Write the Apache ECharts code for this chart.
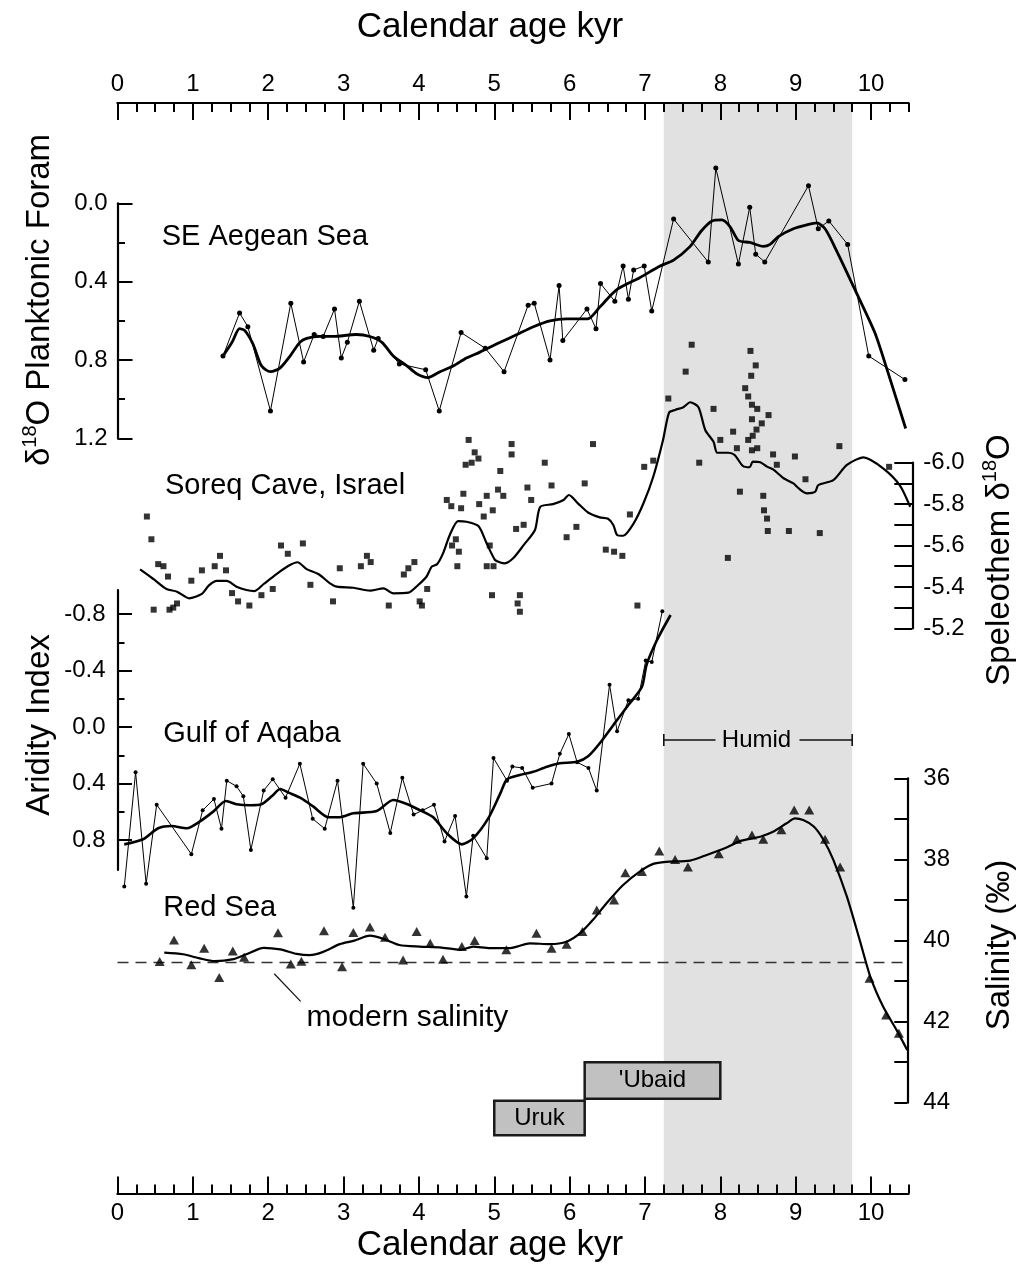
<!DOCTYPE html>
<html><head><meta charset="utf-8">
<script src="https://cdn.jsdelivr.net/npm/echarts@6/dist/echarts.min.js"></script>
<style>html,body{margin:0;padding:0;background:#fff}#c{width:1030px;height:1272px}</style>
</head><body><div id="c"></div>
<script>
// ---------------- DATA ----------------
const xMajorTicks = [0,1,2,3,4,5,6,7,8,9,10];
const aegeanTicks = [0.0,0.4,0.8,1.2];
const soreqTicks = [-6.0,-5.8,-5.6,-5.4,-5.2];
const aqabaTicks = [-0.8,-0.4,0.0,0.4,0.8];
const salinityTicks = [36,38,40,42,44];

const aegeanPts = [[1.40,0.78],[1.62,0.56],[1.73,0.63],[2.03,1.06],[2.30,0.51],[2.47,0.81],[2.61,0.67],[2.73,0.68],[2.88,0.54],[2.97,0.79],[3.05,0.71],[3.21,0.50],[3.40,0.75],[3.46,0.69],[3.74,0.82],[4.09,0.85],[4.27,1.06],[4.56,0.66],[4.88,0.74],[5.13,0.86],[5.45,0.52],[5.53,0.51],[5.74,0.80],[5.86,0.42],[5.91,0.70],[6.23,0.54],[6.35,0.64],[6.41,0.41],[6.60,0.50],[6.71,0.32],[6.78,0.49],[6.85,0.34],[6.99,0.32],[7.09,0.55],[7.38,0.08],[7.84,0.30],[7.94,-0.18],[8.24,0.31],[8.39,0.02],[8.47,0.26],[8.59,0.30],[9.17,-0.09],[9.30,0.13],[9.44,0.09],[9.69,0.21],[9.97,0.78],[10.45,0.90]];
const aegeanSmooth = [[1.40,0.78],[1.52,0.71],[1.62,0.64],[1.69,0.65],[1.80,0.72],[1.91,0.83],[2.03,0.86],[2.16,0.84],[2.29,0.78],[2.42,0.71],[2.51,0.69],[2.69,0.68],[2.86,0.68],[3.17,0.67],[3.35,0.68],[3.51,0.71],[3.66,0.78],[3.84,0.83],[3.97,0.87],[4.12,0.89],[4.28,0.86],[4.46,0.83],[4.63,0.79],[4.81,0.76],[5.08,0.71],[5.30,0.67],[5.52,0.63],[5.74,0.60],[5.96,0.59],[6.24,0.59],[6.40,0.53],[6.63,0.44],[6.93,0.38],[7.20,0.32],[7.38,0.29],[7.60,0.22],[7.75,0.14],[7.89,0.09],[8.02,0.085],[8.13,0.12],[8.24,0.19],[8.39,0.20],[8.57,0.22],[8.66,0.21],[8.77,0.17],[8.97,0.13],[9.15,0.11],[9.28,0.10],[9.39,0.13],[9.54,0.24],[9.81,0.46],[10.05,0.66],[10.23,0.87],[10.46,1.15]];

const soreqPts = [[0.39,-5.74],[0.45,-5.63],[0.54,-5.51],[0.61,-5.50],[0.67,-5.45],[0.48,-5.29],[0.69,-5.29],[0.74,-5.30],[0.79,-5.32],[0.98,-5.43],[1.12,-5.48],[1.29,-5.50],[1.36,-5.55],[1.44,-5.48],[1.52,-5.37],[1.60,-5.33],[1.75,-5.31],[1.91,-5.36],[2.06,-5.39],[2.17,-5.60],[2.26,-5.56],[2.46,-5.61],[2.56,-5.41],[2.86,-5.33],[2.95,-5.49],[3.23,-5.50],[3.31,-5.55],[3.36,-5.52],[3.60,-5.31],[3.80,-5.46],[3.86,-5.49],[3.94,-5.52],[4.01,-5.33],[4.04,-5.31],[4.11,-5.39],[4.37,-5.82],[4.43,-5.79],[4.49,-5.63],[4.53,-5.57],[4.44,-5.60],[4.51,-5.50],[4.59,-5.85],[4.56,-5.78],[4.66,-6.11],[4.74,-6.05],[4.79,-6.02],[4.62,-5.99],[4.70,-6.00],[4.80,-5.80],[4.86,-5.74],[4.90,-5.84],[4.98,-5.77],[5.05,-5.87],[5.12,-5.84],[4.94,-5.60],[5.08,-5.96],[5.23,-6.09],[5.23,-6.04],[5.29,-5.68],[4.90,-5.50],[4.99,-5.50],[4.97,-5.36],[5.34,-5.36],[5.31,-5.32],[5.34,-5.28],[5.44,-5.88],[5.49,-5.82],[5.67,-6.00],[5.76,-5.89],[6.31,-6.09],[6.20,-5.90],[6.09,-5.69],[5.96,-5.64],[5.39,-5.70],[6.48,-5.58],[6.59,-5.57],[6.70,-5.55],[6.80,-5.75],[6.90,-5.31],[6.99,-5.98],[7.11,-6.01],[7.31,-6.31],[7.54,-6.44],[7.62,-6.57],[7.91,-6.26],[7.72,-6.00],[8.00,-6.11],[8.17,-6.15],[8.22,-6.07],[8.10,-5.54],[8.26,-5.86],[8.40,-6.54],[8.47,-6.47],[8.41,-6.42],[8.33,-6.36],[8.37,-6.32],[8.42,-6.28],[8.49,-6.26],[8.64,-6.23],[8.42,-6.21],[8.55,-6.19],[8.48,-6.16],[8.43,-6.13],[8.37,-6.11],[8.49,-6.07],[8.42,-6.06],[8.70,-6.04],[8.75,-5.99],[8.99,-6.03],[9.13,-5.92],[9.58,-6.08],[10.24,-5.98],[8.57,-5.84],[8.58,-5.77],[8.62,-5.73],[8.63,-5.67],[8.91,-5.67],[9.32,-5.66]];
const soreqSmooth = [[0.30,-5.485],[0.48,-5.437],[0.65,-5.390],[0.79,-5.377],[0.95,-5.345],[1.12,-5.366],[1.21,-5.406],[1.32,-5.429],[1.45,-5.429],[1.58,-5.401],[1.71,-5.385],[1.82,-5.380],[1.94,-5.414],[2.11,-5.462],[2.27,-5.502],[2.39,-5.519],[2.51,-5.486],[2.67,-5.461],[2.82,-5.417],[2.91,-5.401],[3.13,-5.396],[3.35,-5.382],[3.53,-5.393],[3.66,-5.369],[3.86,-5.372],[3.99,-5.409],[4.10,-5.449],[4.17,-5.498],[4.24,-5.509],[4.32,-5.562],[4.41,-5.651],[4.52,-5.718],[4.63,-5.715],[4.79,-5.694],[4.90,-5.610],[5.01,-5.530],[5.08,-5.518],[5.14,-5.514],[5.25,-5.538],[5.39,-5.602],[5.54,-5.675],[5.61,-5.787],[5.78,-5.800],[5.92,-5.820],[5.99,-5.844],[6.12,-5.800],[6.25,-5.758],[6.40,-5.736],[6.51,-5.729],[6.58,-5.699],[6.63,-5.651],[6.71,-5.647],[6.85,-5.707],[6.98,-5.804],[7.11,-5.932],[7.24,-6.110],[7.32,-6.242],[7.40,-6.255],[7.51,-6.268],[7.60,-6.292],[7.71,-6.268],[7.80,-6.158],[7.91,-6.101],[7.96,-6.048],[8.11,-6.048],[8.19,-6.037],[8.30,-5.984],[8.39,-5.978],[8.43,-6.005],[8.53,-6.002],[8.62,-5.981],[8.70,-5.968],[8.84,-5.925],[8.97,-5.900],[9.04,-5.876],[9.15,-5.852],[9.26,-5.860],[9.30,-5.892],[9.50,-5.916],[9.68,-5.989],[9.90,-6.026],[10.16,-5.973],[10.38,-5.892],[10.52,-5.787]];

const aqabaPts = [[0.09,1.13],[0.24,0.32],[0.38,1.11],[0.52,0.55],[0.98,0.90],[1.13,0.59],[1.28,0.51],[1.38,0.72],[1.45,0.38],[1.58,0.42],[1.67,0.49],[1.77,0.87],[1.94,0.45],[2.06,0.37],[2.23,0.50],[2.42,0.26],[2.59,0.65],[2.75,0.72],[2.92,0.38],[3.13,1.28],[3.26,0.26],[3.44,0.40],[3.62,0.75],[3.78,0.36],[3.93,0.62],[4.05,0.59],[4.20,0.55],[4.34,0.81],[4.48,0.63],[4.63,1.20],[4.72,0.77],[4.90,0.93],[4.99,0.22],[5.17,0.38],[5.24,0.28],[5.37,0.29],[5.51,0.43],[5.76,0.40],[5.87,0.19],[5.99,0.05],[6.10,0.25],[6.25,0.29],[6.36,0.45],[6.53,-0.30],[6.63,0.03],[6.78,-0.19],[6.91,-0.20],[7.01,-0.47],[7.09,-0.46],[7.23,-0.82]];
const aqabaSmooth = [[0.09,0.831],[0.34,0.795],[0.54,0.717],[0.72,0.701],[0.92,0.717],[1.09,0.670],[1.27,0.599],[1.44,0.524],[1.58,0.547],[1.76,0.554],[1.91,0.547],[2.05,0.489],[2.16,0.439],[2.27,0.465],[2.44,0.505],[2.60,0.564],[2.80,0.639],[2.95,0.639],[3.13,0.611],[3.44,0.595],[3.66,0.517],[3.84,0.545],[4.01,0.588],[4.19,0.639],[4.37,0.753],[4.57,0.831],[4.72,0.788],[4.92,0.647],[5.08,0.470],[5.17,0.370],[5.34,0.340],[5.52,0.317],[5.70,0.281],[5.87,0.257],[6.10,0.246],[6.25,0.205],[6.40,0.115],[6.63,-0.050],[6.78,-0.156],[6.96,-0.285],[7.02,-0.439],[7.16,-0.616],[7.34,-0.793]];

const redSeaPts = [[0.56,40.52],[0.75,39.99],[0.98,40.60],[1.15,40.19],[1.35,40.91],[1.53,40.26],[1.68,40.41],[2.13,39.81],[2.30,40.58],[2.44,40.51],[2.74,39.76],[2.98,40.65],[3.13,39.80],[3.35,39.67],[3.55,39.92],[3.79,40.48],[3.97,39.78],[4.15,40.07],[4.32,40.46],[4.57,40.15],[4.74,40.00],[5.16,40.23],[5.56,39.82],[5.76,40.19],[5.96,40.09],[6.17,39.78],[6.36,39.25],[6.59,39.00],[6.74,38.33],[6.96,38.30],[7.19,37.79],[7.40,38.00],[7.57,38.19],[7.98,37.86],[8.22,37.50],[8.42,37.40],[8.57,37.50],[8.81,37.27],[8.98,36.78],[9.18,36.78],[9.39,37.50],[9.59,38.19],[9.98,40.93],[10.20,41.84],[10.37,42.29]];
const redSeaSmooth = [[0.62,40.30],[0.87,40.34],[1.09,40.44],[1.29,40.51],[1.54,40.46],[1.71,40.34],[1.94,40.18],[2.16,40.22],[2.38,40.33],[2.55,40.36],[2.73,40.28],[2.95,40.09],[3.13,40.01],[3.35,39.88],[3.53,39.96],[3.74,40.11],[4.01,40.15],[4.28,40.17],[4.55,40.23],[4.72,40.15],[4.94,40.19],[5.21,40.19],[5.30,40.15],[5.47,40.07],[5.74,40.09],[5.96,40.03],[6.14,39.82],[6.31,39.49],[6.49,39.08],[6.71,38.63],[6.93,38.30],[7.11,38.11],[7.28,38.06],[7.60,38.03],[7.82,37.89],[8.09,37.70],[8.26,37.55],[8.53,37.44],[8.70,37.32],[8.88,37.11],[8.99,36.99],[9.10,37.03],[9.24,37.19],[9.37,37.52],[9.50,38.01],[9.68,38.92],[9.85,39.99],[9.99,40.89],[10.16,41.63],[10.34,42.21],[10.48,42.70]];

const modernSalinity = 40.54;
const humidPeriod = [7.25, 9.75];
const culturePeriods = [["'Ubaid", 6.2, 8.0], ["Uruk", 5.0, 6.2]];

// ---------------- LAYOUT ----------------
const FONT = '"Liberation Sans", Arial, Helvetica, sans-serif';
const BLACK = '#000';
const L = 117.5, W = 791.2, W10 = 753.5;
const TOP = 103, BOT = 1193.5;
const BOX_ROWS = [[43.0, 43.9], [43.95, 44.8]];

const chart = echarts.init(document.getElementById('c'), null, {renderer: 'canvas'});

const lineSt = w => ({color: BLACK, width: w});
const axLine = w => ({show: true, onZero: false, lineStyle: lineSt(w)});
const hiddenX = g => ({type: 'value', gridIndex: g, show: false, min: 0, max: 10.5, axisLine: {onZero: false}});
const fmt1 = v => (Math.abs(v) < 1e-9 ? '0.0' : v.toFixed(1));

const grids = [
  {left: L, top: TOP, width: W10, height: BOT - TOP},          // 0 x major
  {left: L, top: TOP, width: W, height: BOT - TOP},            // 1 x minor + shade
  {left: L, top: 203.3, width: W, height: 235},                // 2 aegean
  {left: L, top: 462.7, width: W, height: 165.6},              // 3 soreq
  {left: L, top: 614, width: W, height: 226},                  // 4 aqaba
  {left: L, top: 590, width: W, height: 280},                  // 5 aqaba axis line
  {left: L, top: 778.3, width: W, height: 324.4}               // 6 red sea
];

const xAxes = [
  {type: 'value', gridIndex: 0, position: 'top', min: 0, max: 10, interval: 1,
   axisLine: axLine(2), axisTick: {show: true, inside: true, length: 17, lineStyle: lineSt(2)},
   axisLabel: {show: true, margin: 7, fontSize: 24, color: BLACK, fontFamily: FONT}, splitLine: {show: false}, z: 10},
  {type: 'value', gridIndex: 0, position: 'bottom', min: 0, max: 10, interval: 1,
   axisLine: axLine(2), axisTick: {show: true, inside: true, length: 17, lineStyle: lineSt(2)},
   axisLabel: {show: true, margin: 8, fontSize: 24, color: BLACK, fontFamily: FONT}, splitLine: {show: false}, z: 10},
  {type: 'value', gridIndex: 1, position: 'top', min: 0, max: 10.5, interval: 0.25,
   axisLine: axLine(2), axisTick: {show: true, inside: true, length: 9, lineStyle: lineSt(2)},
   axisLabel: {show: false}, splitLine: {show: false}, z: 10},
  {type: 'value', gridIndex: 1, position: 'bottom', min: 0, max: 10.5, interval: 0.25,
   axisLine: axLine(2), axisTick: {show: true, inside: true, length: 9, lineStyle: lineSt(2)},
   axisLabel: {show: false}, splitLine: {show: false}, z: 10},
  hiddenX(2), hiddenX(3), hiddenX(4), hiddenX(5), hiddenX(6)
];

const yAxes = [
  {type: 'value', gridIndex: 0, show: false, min: 0, max: 1, axisLine: {onZero: false}},
  {type: 'value', gridIndex: 1, show: false, min: 0, max: 1, axisLine: {onZero: false}},
  {type: 'value', gridIndex: 2, position: 'left', inverse: true,
   min: aegeanTicks[0], max: aegeanTicks[aegeanTicks.length - 1], interval: aegeanTicks[1] - aegeanTicks[0],
   axisLine: axLine(2.2), axisTick: {show: true, inside: true, length: 15, lineStyle: lineSt(2)},
   minorTick: {show: true, splitNumber: 2, length: 7.5, lineStyle: lineSt(2)},
   axisLabel: {margin: 10, fontSize: 24, color: BLACK, fontFamily: FONT, formatter: fmt1}, splitLine: {show: false}, z: 10},
  {type: 'value', gridIndex: 3, position: 'right', offset: 3.6, inverse: true,
   min: soreqTicks[0], max: soreqTicks[soreqTicks.length - 1], interval: 0.2,
   axisLine: axLine(2.2), axisTick: {show: true, inside: true, length: 18, lineStyle: lineSt(2)},
   minorTick: {show: true, splitNumber: 2, length: 18, lineStyle: lineSt(2)},
   axisLabel: {margin: 11, fontSize: 24, color: BLACK, fontFamily: FONT, formatter: fmt1}, splitLine: {show: false}, z: 10},
  {type: 'value', gridIndex: 4, position: 'left', inverse: true,
   min: aqabaTicks[0], max: aqabaTicks[aqabaTicks.length - 1], interval: 0.4,
   axisLine: {show: false, onZero: false}, axisTick: {show: true, inside: true, length: 14.5, lineStyle: lineSt(2)},
   minorTick: {show: true, splitNumber: 2, length: 7, lineStyle: lineSt(2)},
   axisLabel: {margin: 12, fontSize: 24, color: BLACK, fontFamily: FONT, formatter: fmt1}, splitLine: {show: false}, z: 10},
  {type: 'value', gridIndex: 5, position: 'left', min: 0, max: 1,
   axisLine: axLine(2.2), axisTick: {show: false}, axisLabel: {show: false}, splitLine: {show: false}, z: 10},
  {type: 'value', gridIndex: 6, position: 'right', offset: -1.4, inverse: true,
   min: salinityTicks[0], max: salinityTicks[salinityTicks.length - 1], interval: 2,
   axisLine: axLine(2.2), axisTick: {show: true, inside: true, length: 13, lineStyle: lineSt(2)},
   minorTick: {show: true, splitNumber: 2, length: 13, lineStyle: lineSt(2)},
   axisLabel: {margin: 16, fontSize: 24, color: BLACK, fontFamily: FONT}, splitLine: {show: false}, z: 10}
];

const thinLine = (name, data, xi, yi, size) => ({
  name, type: 'line', xAxisIndex: xi, yAxisIndex: yi, data, clip: false, z: 5,
  symbol: 'circle', symbolSize: size, showSymbol: true, showAllSymbol: true,
  lineStyle: {color: BLACK, width: 1}, itemStyle: {color: BLACK}, animation: false, silent: true
});
const thickLine = (name, data, xi, yi, w) => ({
  name, type: 'line', xAxisIndex: xi, yAxisIndex: yi, data, clip: false, z: 6,
  symbol: 'none', smooth: 0.25, lineStyle: {color: BLACK, width: w}, animation: false, silent: true
});

const series = [
  {type: 'line', xAxisIndex: 2, yAxisIndex: 1, data: [[0, 0]], symbol: 'none', lineStyle: {opacity: 0}, z: 1, silent: true,
   markArea: {silent: true, itemStyle: {color: '#e1e1e1'}, data: [[{xAxis: humidPeriod[0]}, {xAxis: humidPeriod[1]}]]}},
  thinLine('Aegean', aegeanPts, 4, 2, 5),
  thickLine('Aegean smooth', aegeanSmooth, 4, 2, 2.8),
  {name: 'Soreq', type: 'scatter', xAxisIndex: 5, yAxisIndex: 3, data: soreqPts, symbol: 'rect', symbolSize: 6,
   itemStyle: {color: BLACK}, clip: false, z: 5, animation: false, silent: true},
  thickLine('Soreq smooth', soreqSmooth, 5, 3, 2.2),
  thinLine('Aqaba', aqabaPts, 6, 4, 4),
  thickLine('Aqaba smooth', aqabaSmooth, 6, 4, 2.6),
  {name: 'Red Sea', type: 'scatter', xAxisIndex: 8, yAxisIndex: 6, data: redSeaPts, symbol: 'triangle', symbolSize: [10, 9],
   itemStyle: {color: BLACK}, clip: false, z: 5, animation: false, silent: true},
  Object.assign(thickLine('Red Sea smooth', redSeaSmooth, 8, 6, 2.2), {
    markLine: {silent: true, symbol: ['none', 'none'], label: {show: false},
      lineStyle: {color: '#333', width: 1.3, type: [11, 7]}, data: [{yAxis: modernSalinity}]}
  }),
  {name: 'Periods', type: 'custom', xAxisIndex: 8, yAxisIndex: 6, clip: false, z: 7, silent: true, animation: false,
   data: culturePeriods.map((p, i) => [p[1], p[2], i]),
   renderItem: (params, api) => {
     const row = BOX_ROWS[api.value(2)];
     const p0 = api.coord([api.value(0), row[0]]);
     const p1 = api.coord([api.value(1), row[1]]);
     return {type: 'rect', shape: {x: p0[0], y: p0[1], width: p1[0] - p0[0], height: p1[1] - p0[1]},
       style: {fill: '#c1c1c1', stroke: '#1a1a1a', lineWidth: 2.5},
       textContent: {style: {text: culturePeriods[params.dataIndex][0], fontSize: 24, fill: BLACK, fontFamily: FONT}},
       textConfig: {position: 'inside'}};
   }},
  {name: 'Humid', type: 'custom', xAxisIndex: 6, yAxisIndex: 4, clip: false, z: 7, silent: true, animation: false,
   data: [[humidPeriod[0], humidPeriod[1], 0.092]],
   renderItem: (params, api) => {
     const a = api.coord([api.value(0), api.value(2)]);
     const b = api.coord([api.value(1), api.value(2)]);
     const cx = (a[0] + b[0]) / 2 - 1.5, y = a[1];
     const st = {stroke: '#111', lineWidth: 1.6};
     return {type: 'group', children: [
       {type: 'line', shape: {x1: a[0], y1: y, x2: cx - 41, y2: y}, style: st},
       {type: 'line', shape: {x1: cx + 43, y1: y, x2: b[0], y2: y}, style: st},
       {type: 'line', shape: {x1: a[0], y1: y - 6, x2: a[0], y2: y + 6}, style: st},
       {type: 'line', shape: {x1: b[0], y1: y - 6, x2: b[0], y2: y + 6}, style: st},
       {type: 'text', x: cx, y: y, style: {text: 'Humid', fontSize: 24, fontFamily: FONT, fill: BLACK, align: 'center', verticalAlign: 'middle'}}
     ]};
   }},
  {name: 'Modern salinity', type: 'custom', xAxisIndex: 8, yAxisIndex: 6, clip: false, z: 7, silent: true, animation: false,
   data: [[2.08, 40.82, 2.43, 41.5]],
   renderItem: (params, api) => {
     const a = api.coord([api.value(0), api.value(1)]);
     const b = api.coord([api.value(2), api.value(3)]);
     return {type: 'group', children: [
       {type: 'line', shape: {x1: a[0], y1: a[1], x2: b[0], y2: b[1]}, style: {stroke: '#111', lineWidth: 1.2}},
       {type: 'text', x: b[0] + 6, y: b[1] + 16, style: {text: 'modern salinity', fontSize: 30, fontFamily: FONT, fill: BLACK, align: 'left', verticalAlign: 'middle'}}
     ]};
   }}
];

const rich = size => ({
  a: {fontSize: size, fontFamily: FONT, fill: BLACK, lineHeight: size + 6},
  s: {fontSize: Math.round(size * 0.6), fontFamily: FONT, fill: BLACK, lineHeight: Math.round(size * 0.6), verticalAlign: 'top'}
});
const txt = (x, y, text, size, align) => ({type: 'text', x, y, silent: true,
  style: {text, fontSize: size, fontFamily: FONT, fill: BLACK, align: align || 'left', verticalAlign: 'middle'}});
const vtitle = (x, y, text, size) => ({type: 'text', x, y, rotation: Math.PI / 2, silent: true,
  style: {text, rich: rich(size), align: 'center', verticalAlign: 'middle', fontSize: size, fontFamily: FONT, fill: BLACK}});

const graphic = [
  txt(490, 27, 'Calendar age kyr', 35, 'center'),
  txt(490, 1245, 'Calendar age kyr', 35, 'center'),
  txt(161.7, 237, 'SE Aegean Sea', 29),
  txt(165, 486, 'Soreq Cave, Israel', 29),
  txt(163.3, 734, 'Gulf of Aqaba', 29),
  txt(163.3, 907.5, 'Red Sea', 29),
  vtitle(40, 300, '{a|δ}{s|18}{a|O Planktonic Foram}', 33),
  vtitle(40, 725, '{a|Aridity Index}', 33),
  vtitle(1000, 560, '{a|Speleothem δ}{s|18}{a|O}', 33),
  vtitle(1000, 945, '{a|Salinity (‰)}', 33)
];

chart.setOption({
  animation: false,
  backgroundColor: '#fff',
  textStyle: {fontFamily: FONT},
  grid: grids, xAxis: xAxes, yAxis: yAxes, series, graphic
});
</script></body></html>
